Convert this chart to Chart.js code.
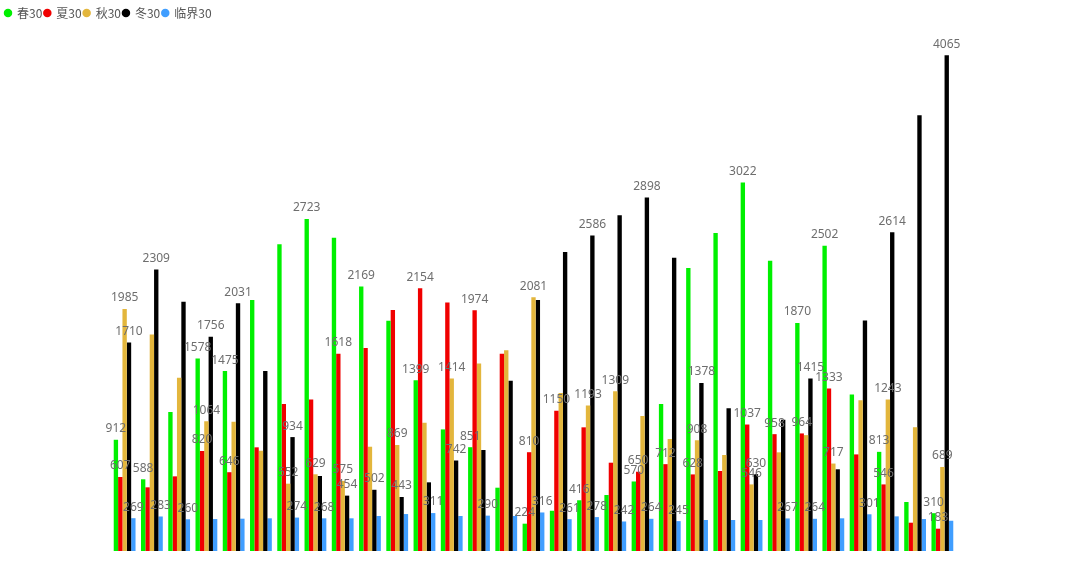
<!DOCTYPE html>
<html lang="zh">
<head>
  <meta charset="UTF-8">
  <title>季节对比</title>
  <script src="https://cdn.jsdelivr.net/npm/chart.js"></script>
  <style>
    html, body { margin: 0; padding: 0; background: #fff; }
    #wrap { width: 1080px; height: 565px; }
  </style>
</head>
<body>
  <div id="wrap"><canvas id="chart"></canvas></div>

  <script>
    const categories = Array.from({ length: 31 }, (_, i) => String(i + 1));

    const spring = [912, 588, 1139, 1578, 1475, 2057, 2516, 2723, 2568, 2169, 1888, 1399, 997, 851, 519, 224,
                    330, 416, 459, 570, 1205, 2320, 2607, 3022, 2380, 1870, 2502, 1283, 813, 402, 310];
    const summer = [607, 522, 612, 820, 646, 850, 1205, 1243, 1618, 1664, 1975, 2154, 2038, 1974, 1617, 810,
                    1150, 1014, 724, 650, 712, 628, 656, 1037, 958, 964, 1333, 792, 546, 232, 183];
    const autumn = [1985, 1776, 1421, 1064, 1060, 822, 552, 629, 575, 855, 869, 1052, 1414, 1538, 1645, 2081,
                    1295, 1193, 1309, 1107, 918, 908, 787, 546, 809, 950, 717, 1236, 1243, 1015, 689];
    const winter = [1710, 2309, 2044, 1756, 2031, 1475, 934, 615, 454, 502, 443, 563, 742, 828, 1396, 2057,
                    2451, 2586, 2752, 2898, 2404, 1378, 1170, 630, 1076, 1415, 670, 1890, 2614, 3573, 4065];
    const critical = [269, 283, 260, 262, 265, 268, 274, 268, 268, 287, 303, 311, 287, 290, 287, 316,
                      261, 278, 242, 264, 245, 254, 254, 254, 267, 264, 268, 301, 284, 262, 248];

    // which value labels survive in the picture (the rest were hidden by overlap)
    const springShow   = [1,1,0,1,1,0,0,1,0,1,0,1,0,1,0,1,0,1,0,1,0,0,0,1,0,1,1,0,1,0,1];
    const summerShow   = [1,0,0,1,1,0,0,0,1,0,0,1,0,1,0,1,1,0,0,1,1,1,0,1,1,1,1,0,1,0,1];
    const autumnShow   = [1,0,0,1,0,0,1,1,1,0,1,0,1,0,0,1,0,1,1,0,0,1,0,1,0,0,1,0,1,0,1];
    const winterShow   = [1,1,0,1,1,0,1,0,1,1,1,0,1,0,0,0,0,1,0,1,0,1,0,1,0,1,0,0,1,0,1];
    const criticalShow = [1,1,1,0,0,0,1,1,0,0,0,1,0,1,0,1,1,1,1,1,1,0,0,0,1,1,0,1,0,0,0];

    function series(label, data, color, show) {
      return { label, data, backgroundColor: color, borderWidth: 0, showLabel: show };
    }

    const barLabels = {
      id: 'barLabels',
      afterDatasetsDraw(chart) {
        const ctx = chart.ctx;
        ctx.save();
        ctx.font = '12px "Noto Sans", sans-serif';
        ctx.fillStyle = '#6e6e6e';
        ctx.textAlign = 'center';
        ctx.textBaseline = 'bottom';
        chart.data.datasets.forEach((ds, i) => {
          chart.getDatasetMeta(i).data.forEach((bar, j) => {
            if (!ds.showLabel[j]) return;
            ctx.fillText(ds.data[j], bar.x, bar.y - 5);
          });
        });
        ctx.restore();
      }
    };

    new Chart(document.getElementById('chart'), {
      type: 'bar',
      data: {
        labels: categories,
        datasets: [
          series('春30', spring, '#00f000', springShow),
          series('夏30', summer, '#f00000', summerShow),
          series('秋30', autumn, '#e3b63c', autumnShow),
          series('冬30', winter, '#000000', winterShow),
          series('临界30', critical, '#409eff', criticalShow),
        ]
      },
      options: {
        responsive: true,
        maintainAspectRatio: false,
        animation: false,
        categoryPercentage: 0.8,
        barPercentage: 1.0,
        layout: { padding: { top: 5, left: 3, right: 124, bottom: 14 } },
        scales: {
          x: { display: false },
          y: {
            min: 0,
            max: 4280,
            ticks: { display: false },
            grid: { display: false },
            border: { display: false },
            afterFit: (scale) => { scale.width = 108; }
          }
        },
        plugins: {
          legend: {
            position: 'top',
            align: 'start',
            labels: {
              usePointStyle: true,
              pointStyle: 'circle',
              boxWidth: 6,
              boxHeight: 6,
              padding: 2,
              color: '#555',
              font: { size: 12, family: '"Noto Sans CJK SC", "Noto Sans", sans-serif' }
            }
          },
          tooltip: { enabled: false }
        }
      },
      plugins: [barLabels]
    });
  </script>
</body>
</html>
